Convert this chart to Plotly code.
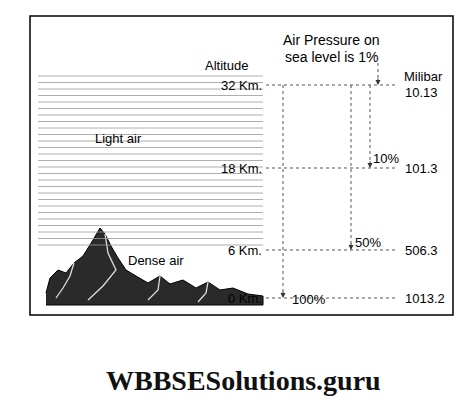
import plotly.graph_objects as go
import numpy as np

altitudes = ["32 Km.", "18 Km.", "6 Km.", "0 Km."]
pressures = ["10.13", "101.3", "506.3", "1013.2"]
percents = ["1%", "10%", "50%", "100%"]
level_y = [77, 160, 242, 290]
arrow_x = [370, 362, 343, 275]

fig = go.Figure()
shapes = []
shapes.append(dict(type="rect", x0=22, x1=445, y0=8, y1=307, line=dict(color="black", width=1.5)))
for y in np.arange(68, 240, 6.5):
    shapes.append(dict(type="line", x0=30, x1=255, y0=y, y1=y, line=dict(color="#999", width=0.8)))
mx = [38, 42, 50, 58, 66, 75, 85, 92, 97, 103, 110, 118, 128, 140, 152, 162, 175, 188, 200, 212, 225, 240, 255, 255, 38]
my = [285, 270, 262, 265, 255, 248, 232, 220, 226, 238, 250, 262, 268, 275, 268, 276, 272, 280, 274, 282, 280, 286, 288, 297, 297]
fig.add_trace(go.Scatter(x=mx, y=my, fill="toself", fillcolor="#2a2a2a", line=dict(color="black", width=1), mode="lines", hoverinfo="skip"))
for wx, wy in [([97, 100, 108, 95, 80], [226, 245, 262, 278, 292]),
               ([66, 62, 55, 48], [255, 268, 280, 290]),
               ([152, 150, 140], [268, 282, 292]),
               ([200, 198, 190], [274, 285, 294])]:
    fig.add_trace(go.Scatter(x=wx, y=wy, mode="lines", line=dict(color="#ddd", width=1.3), hoverinfo="skip"))
f = dict(size=13)
for i, y in enumerate(level_y):
    shapes.append(dict(type="line", x0=258, x1=388, y0=y, y1=y, line=dict(color="#555", width=1, dash="dot")))
    fig.add_annotation(x=256, y=y, text=altitudes[i], xanchor="right", showarrow=False, font=f)
    fig.add_annotation(x=395, y=y + 7 if i == 0 else y, text=pressures[i], xanchor="left", showarrow=False, font=f)
tops = [55, 77, 77, 77]
for i in range(4):
    shapes.append(dict(type="line", x0=arrow_x[i], x1=arrow_x[i], y0=tops[i], y1=level_y[i] - 4, line=dict(color="#555", width=1, dash="dot")))
    fig.add_annotation(x=arrow_x[i], y=level_y[i], ax=arrow_x[i], ay=level_y[i] - 8, xref="x", yref="y", axref="x", ayref="y",
                       text="", showarrow=True, arrowhead=2, arrowsize=1, arrowwidth=1, arrowcolor="#333")
fig.add_annotation(x=378, y=150, text="10%", showarrow=False, font=f)
fig.add_annotation(x=360, y=234, text="50%", showarrow=False, font=f)
fig.add_annotation(x=301, y=291, text="100%", showarrow=False, font=f)
fig.add_annotation(x=323, y=32, text="Air Pressure on", showarrow=False, font=dict(size=14))
fig.add_annotation(x=323, y=49, text="sea level is 1%", showarrow=False, font=dict(size=14))
fig.add_annotation(x=218, y=57, text="Altitude", showarrow=False, font=f)
fig.add_annotation(x=415, y=68, text="Milibar", showarrow=False, font=f)
fig.add_annotation(x=110, y=130, text="Light air", showarrow=False, font=f)
fig.add_annotation(x=148, y=252, text="Dense air", showarrow=False, font=f, bgcolor="rgba(255,255,255,0.7)")
fig.add_annotation(x=235, y=372, text="<b>WBBSESolutions.guru</b>", showarrow=False,
                   font=dict(size=28, family="Liberation Serif", color="#111"))

fig.update_layout(width=476, height=412, margin=dict(l=0, r=0, t=0, b=0), showlegend=False,
                  plot_bgcolor="white", paper_bgcolor="white", shapes=shapes,
                  font=dict(family="Liberation Sans", color="black"),
                  xaxis=dict(range=[0, 476], visible=False),
                  yaxis=dict(range=[412, 0], visible=False))
fig.write_html("out.html")
